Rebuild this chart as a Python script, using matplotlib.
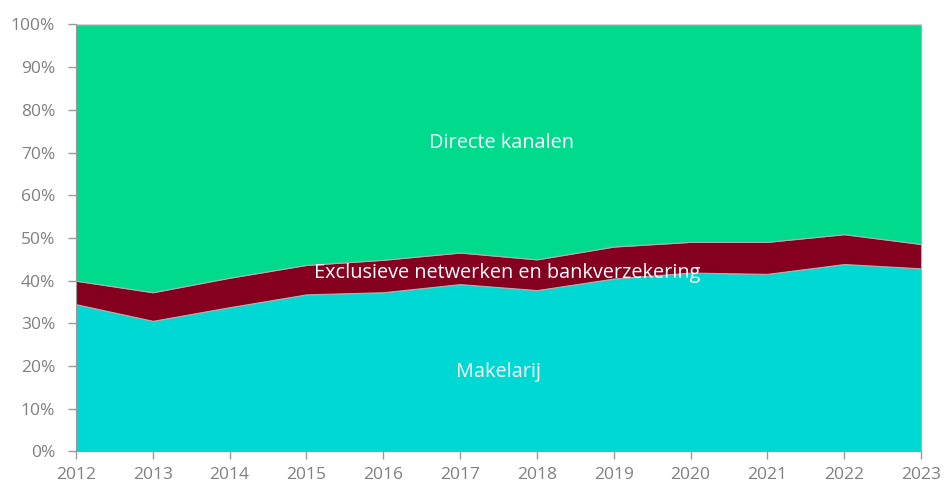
import matplotlib
matplotlib.use("Agg")
import matplotlib.pyplot as plt
from matplotlib.ticker import FuncFormatter

years = [2012, 2013, 2014, 2015, 2016, 2017, 2018, 2019, 2020, 2021, 2022, 2023]
makelarij = [34.5, 30.6, 33.8, 36.8, 37.3, 39.2, 37.8, 40.5, 41.9, 41.6, 43.9, 42.9]
exclusieve = [5.5, 6.7, 6.9, 6.9, 7.6, 7.4, 7.2, 7.5, 7.2, 7.5, 7.0, 5.7]
directe = [100 - a - b for a, b in zip(makelarij, exclusieve)]
series_names = ["Makelarij", "Exclusieve netwerken en bankverzekering", "Directe kanalen"]
colors = ["#00D9D3", "#85001F", "#00DA8C"]

plt.rcParams['font.family'] = ['Open Sans', 'DejaVu Sans']
fig = plt.figure(figsize=(9.46, 4.88), dpi=100)
ax = fig.add_axes([0.0803, 0.0748, 0.8933, 0.875])

ax.stackplot(years, makelarij, exclusieve, directe, colors=colors,
             edgecolor="#b0b0b0", linewidth=0.8)
ax.set_xlim(2012, 2023)
ax.set_ylim(0, 100)
ax.set_xticks(years)
ax.set_yticks(range(0, 101, 10))
ax.yaxis.set_major_formatter(FuncFormatter(lambda v, p: f"{int(v)}%"))
for s in ["top", "right"]:
    ax.spines[s].set_visible(False)
for s in ["left", "bottom"]:
    ax.spines[s].set_color("#999999")
ax.tick_params(colors="#999999", labelcolor="#808080", labelsize=12.5, length=6, width=1)
ax.tick_params(axis="y", pad=9)
ax.tick_params(axis="x", pad=5)

ax.text(2017.54, 72.3, series_names[2], color="white", fontsize=14.3, ha="center", va="center")
ax.text(2017.61, 41.9, series_names[1], color="white", fontsize=14.3, ha="center", va="center")
ax.text(2017.5, 18.7, series_names[0], color="white", fontsize=14.3, ha="center", va="center")

fig.savefig("out.png", dpi=100)
